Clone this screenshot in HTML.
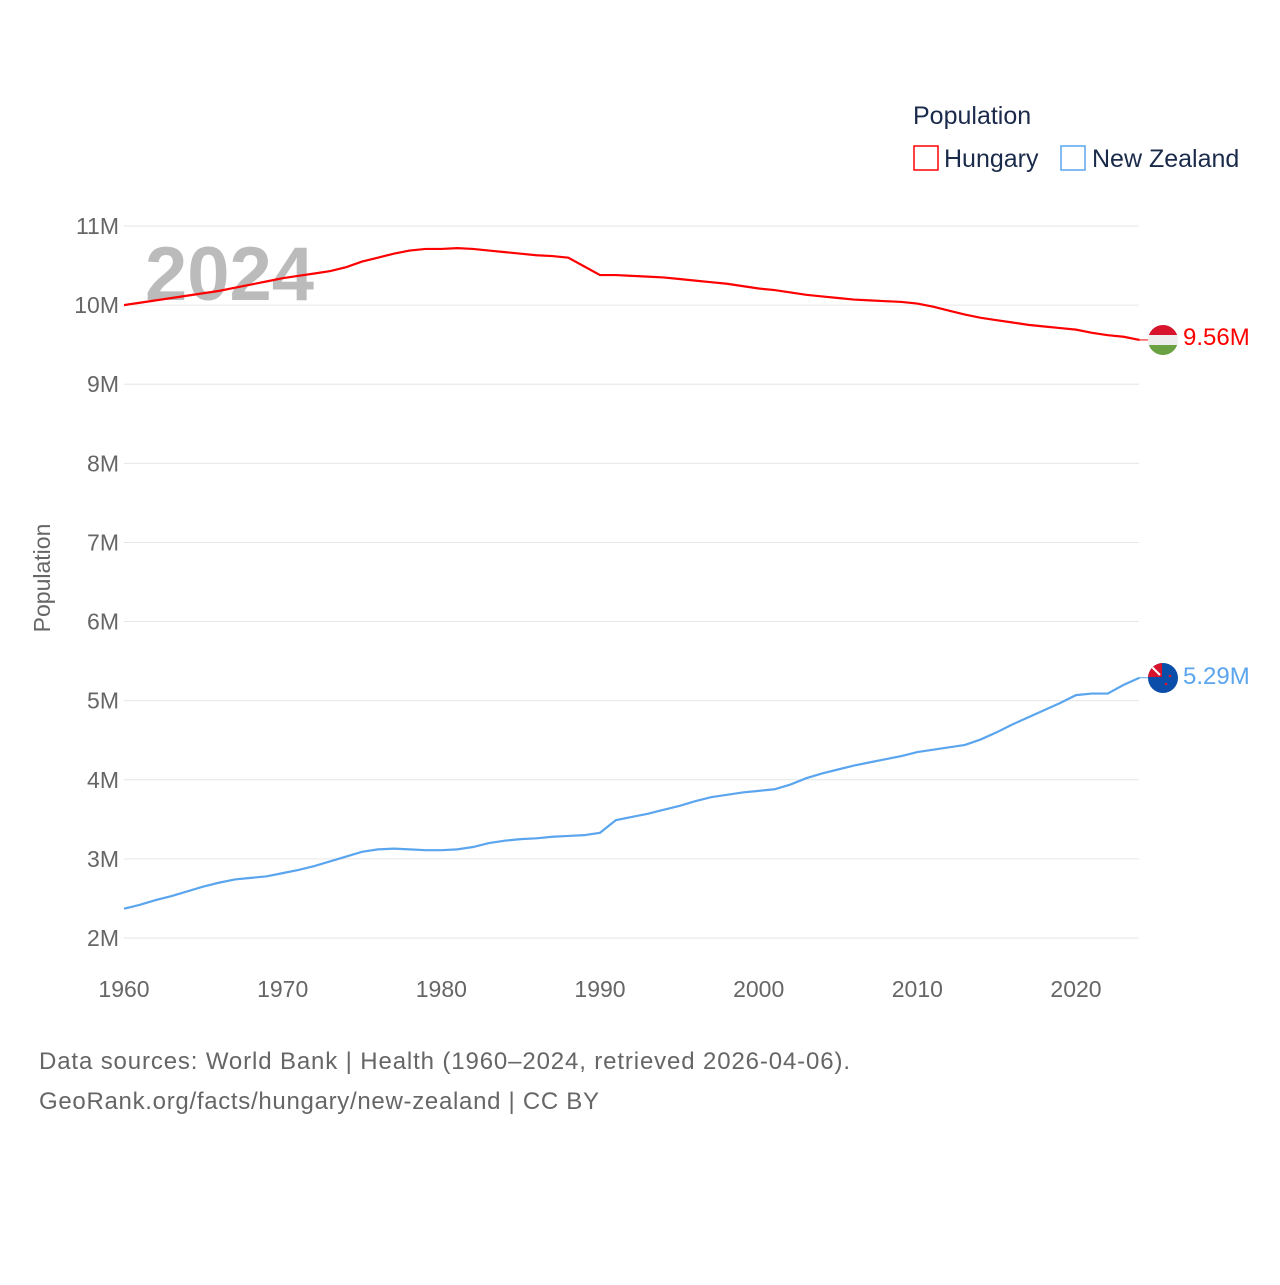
<!DOCTYPE html>
<html><head><meta charset="utf-8"><style>
body{margin:0;background:#fff;font-family:"Liberation Sans",sans-serif}
svg text{font-family:"Liberation Sans",sans-serif}
</style></head><body>
<svg id="chart" width="1280" height="1280" xmlns="http://www.w3.org/2000/svg">
<text x="913" y="124" font-size="25" fill="#1a2a4a">Population</text>
<g><rect x="914" y="146" width="24" height="24" fill="none" stroke="#f00" stroke-width="1.5"/><text x="944" y="167" font-size="25" fill="#1a2a4a">Hungary</text></g>
<g><rect x="1061" y="146" width="24" height="24" fill="none" stroke="#5aa5ee" stroke-width="1.5"/><text x="1092" y="167" font-size="25" fill="#1a2a4a">New Zealand</text></g>
<text x="145" y="300" font-size="76" font-weight="bold" fill="#bbb">2024</text>
<g id="grid"></g><g id="lines"></g>
<text transform="translate(50,578) rotate(-90)" text-anchor="middle" font-size="23" fill="#666">Population</text>
<text x="39" y="1069" font-size="24" fill="#666" textLength="811">Data sources: World Bank | Health (1960–2024, retrieved 2026-04-06).</text>
<text x="39" y="1109" font-size="24" fill="#666" textLength="560">GeoRank.org/facts/hungary/new-zealand | CC BY</text>
<defs><clipPath id="c1"><circle cx="1163" cy="340" r="15"/></clipPath><clipPath id="c2"><circle cx="1163" cy="678" r="15"/></clipPath></defs>
<g clip-path="url(#c1)"><rect x="1148" y="325" width="30" height="10" fill="#d7142c"/><rect x="1148" y="335" width="30" height="10" fill="#eee"/><rect x="1148" y="345" width="30" height="10" fill="#6aa143"/></g>
<g clip-path="url(#c2)"><rect x="1148" y="663" width="30" height="30" fill="#0a4eaa"/><rect x="1148" y="663" width="14" height="14" fill="#d7142c"/><path d="M1150 665 L1160 675" stroke="#fff" stroke-width="2"/><circle cx="1170" cy="676" r="1.3" fill="#d7142c"/><circle cx="1166" cy="684" r="1.3" fill="#d7142c"/></g>
<text x="1183" y="345" font-size="24" fill="#f00">9.56M</text>
<text x="1183" y="684" font-size="24" fill="#5aa5ee">5.29M</text>
</svg>
<script>
const years=[];for(let y=1960;y<=2024;y++)years.push(y);
const hungary=[10.00,10.03,10.06,10.09,10.12,10.15,10.18,10.22,10.26,10.30,10.34,10.37,10.40,10.43,10.48,10.55,10.60,10.65,10.69,10.71,10.71,10.72,10.71,10.69,10.67,10.65,10.63,10.62,10.60,10.49,10.38,10.38,10.37,10.36,10.35,10.33,10.31,10.29,10.27,10.24,10.21,10.19,10.16,10.13,10.11,10.09,10.07,10.06,10.05,10.04,10.02,9.98,9.93,9.88,9.84,9.81,9.78,9.75,9.73,9.71,9.69,9.65,9.62,9.60,9.56];
const nz=[2.37,2.42,2.48,2.53,2.59,2.65,2.70,2.74,2.76,2.78,2.82,2.86,2.91,2.97,3.03,3.09,3.12,3.13,3.12,3.11,3.11,3.12,3.15,3.20,3.23,3.25,3.26,3.28,3.29,3.30,3.33,3.49,3.53,3.57,3.62,3.67,3.73,3.78,3.81,3.84,3.86,3.88,3.94,4.02,4.08,4.13,4.18,4.22,4.26,4.30,4.35,4.38,4.41,4.44,4.51,4.60,4.70,4.79,4.88,4.97,5.07,5.09,5.09,5.20,5.29];
const yTicks=[2,3,4,5,6,7,8,9,10,11];
const xTicks=[1960,1970,1980,1990,2000,2010,2020];
const X=y=>124+(y-1960)*15.867, Y=v=>938-(v-2)*79.11;
const NS="http://www.w3.org/2000/svg";
const grid=document.getElementById('grid'),lines=document.getElementById('lines');
function mk(t,a,p){const e=document.createElementNS(NS,t);for(const k in a)e.setAttribute(k,a[k]);p.appendChild(e);return e;}
yTicks.forEach(v=>{
 const l=mk('line',{x1:124,x2:1139,y1:Y(v),y2:Y(v),stroke:'#e6e6e6','stroke-width':1},grid);
 
 
 const t=mk('text',{x:119,y:Y(v)+8,'text-anchor':'end','font-size':23,fill:'#666'},grid);t.textContent=v+'M';
 
 
});
xTicks.forEach(v=>{
 const t=mk('text',{x:X(v),y:997,'text-anchor':'middle','font-size':23,fill:'#666'},grid);t.textContent=v;
 
 
});
function line(d,c,n){
 const p=mk('polyline',{points:d.map((v,i)=>X(years[i])+','+Y(v)).join(' '),fill:'none',stroke:c,'stroke-width':2.2},lines);
 
 
 const last=d[d.length-1];
 mk('line',{x1:X(2024),x2:1150,y1:Y(last),y2:Y(last),stroke:c,'stroke-width':1},lines);
}
line(hungary,'#f00','hungary-line');
line(nz,'#5aa5ee','new-zealand-line');
</script>
</body></html>
